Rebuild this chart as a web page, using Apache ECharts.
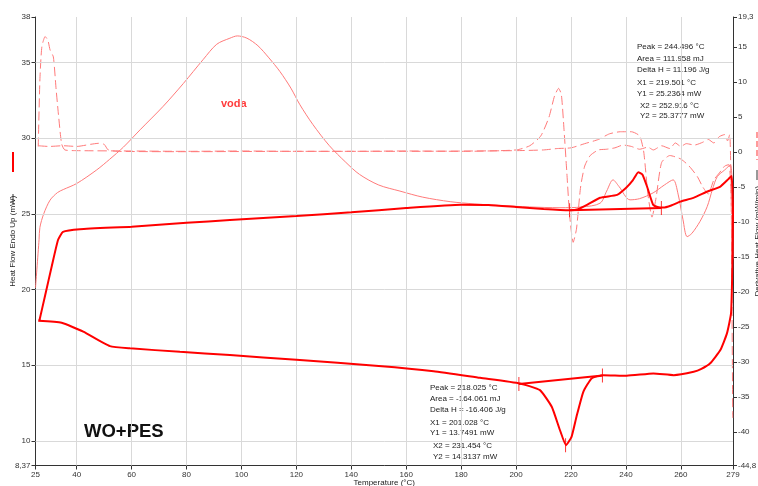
<!DOCTYPE html>
<html>
<head>
<meta charset="utf-8">
<script src="https://cdn.jsdelivr.net/npm/echarts@6/dist/echarts.min.js"></script>
<style>
  html, body { margin: 0; padding: 0; background: #fff; }
  #chart { width: 758px; height: 486px; }
</style>
</head>
<body>
<div id="chart"></div>
<script>
// Axis ticks
const tempTicks = [25, 40, 60, 80, 100, 120, 140, 160, 180, 200, 220, 240, 260, 279];
const tempGrid = [40, 60, 80, 100, 120, 140, 160, 180, 200, 220, 240, 260];
const heatTicks = [8.37, 10, 15, 20, 25, 30, 35, 38];
const heatGrid = [10, 15, 20, 25, 30, 35];
const derivTicks = [-44.8, -40, -35, -30, -25, -20, -15, -10, -5, 0, 5, 10, 15, 19.3];

// WO+PES heat flow loop (°C, mW)
const loopT = [26.4, 28.5, 31, 33.2, 35.0, 41.2, 60, 80, 95.8, 120, 140, 160, 180, 190, 200, 210, 219.5, 222.6,
  226, 230.6, 236.8, 240, 242.5, 244.5, 246, 247.7, 249.9, 251.5, 253.6, 256.5, 259.8, 264.6, 269.7, 274.4, 277.3, 278.5,
  279.0, 278.8, 278.3, 276.8, 274.4, 270.7, 267.5, 264.7, 257.4, 250, 240.3, 231.8, 227.5, 224.5, 222, 220.2, 218.2,
  216, 213, 208.7, 201.4, 186.9, 170, 150, 120, 95.8, 77.6, 59.4, 52.1, 42.4, 34.5, 26.0];
const loopV = [17.93, 19.6, 21.6, 23.27, 23.8, 23.98, 24.15, 24.4, 24.59, 24.85, 25.1, 25.38, 25.6, 25.58, 25.45, 25.32, 25.24, 25.3,
  25.6, 26.06, 26.25, 26.7, 27.2, 27.75, 27.6, 26.8, 25.6, 25.45, 25.41, 25.55, 25.8, 26.05, 26.47, 26.8, 27.29, 27.5,
  25.0, 21.9, 18.45, 17.1, 16.0, 15.12, 14.75, 14.56, 14.34, 14.45, 14.30, 14.34, 14.12, 13.24, 11.59, 10.26, 9.71,
  10.7, 12.25, 13.35, 13.79, 14.16, 14.6, 14.95, 15.35, 15.67, 15.88, 16.11, 16.26, 17.21, 17.8, 17.93];

// voda run heat flow (°C, mW)
const vodaT = [25.0, 26.3, 26.6, 28, 30.3, 33, 35.1, 40, 47.3, 52, 57, 63.1, 71.5, 78.8, 86.1, 91, 95.8, 98.5, 102, 106,
  110, 114, 118, 121.3, 126, 132, 138, 143, 150, 157.7, 166, 176, 185, 194, 205, 216, 224, 230.6, 233, 235.3, 237.5,
  241.5, 245, 249.9, 254, 257.2, 259, 260.8, 262.3, 264, 267, 269.6, 271.5, 273.3, 276, 278, 278.8, 279];
const vodaV = [20.1, 23.3, 24.1, 25.0, 25.9, 26.4, 26.6, 27.0, 27.9, 28.6, 29.4, 30.55, 32.1, 33.6, 35.2, 36.2, 36.6, 36.75, 36.6, 36.1,
  35.3, 34.4, 33.3, 32.2, 30.9, 29.5, 28.4, 27.6, 26.9, 26.5, 26.1, 25.8, 25.65, 25.55, 25.45, 25.4, 25.45, 25.7, 26.5, 27.24, 26.8,
  25.92, 26.0, 26.38, 26.9, 27.24, 26.3, 24.6, 23.49, 23.7, 24.5, 25.47, 26.6, 27.46, 27.9, 28.23, 26, 22];

// Derivative heat flow, curve 1 (°C, mW/min)
const deriv1T = [26.0, 26.6, 27.3, 28.5, 29.5, 30.3, 31.5, 32.5, 33.3, 34.5, 35.7, 40, 60, 80, 100, 120, 140, 160, 180, 200,
  205, 209, 212, 214, 215.5, 216.5, 217.5, 218.5, 219.5, 220.8, 222, 223.5, 225, 227, 230, 233, 236, 239, 242, 245, 248, 250,
  253, 256, 258, 260, 262, 265, 268, 270, 272, 274, 276, 277, 277.8, 278.3, 278.6, 278.9];
const deriv1V = [0.8, 10.3, 15, 16.5, 16, 14.6, 13.6, 9, 5.6, 1.2, 0.3, 0.2, 0.15, 0.1, 0.15, 0.1, 0.1, 0.15, 0.1, 0.3,
  0.9, 2.3, 5, 8, 9.1, 8.2, 3, -3, -9, -12.9, -11, -5, -2, -0.5, 0.3, 0.4, 0.6, 1, 0.8, 0.4, 0.7, 0.3,
  0.9, 0.5, 1.3, 0.8, 1.2, 1.0, 1.4, 1.8, 1.3, 2.2, 2.5, 1.6, 2.5, -5, -20, -38];

// Derivative heat flow, curve 2 (°C, mW/min)
const deriv2T = [26.0, 30, 35, 40, 45, 48, 50, 51.5, 55, 80, 120, 160, 200, 210, 215, 220, 225, 230, 234, 238, 242, 245,
  246.5, 248, 249.5, 251, 253, 256, 260, 263, 266, 268, 270, 272, 274, 276, 277.5, 278.3, 278.6];
const deriv2V = [0.9, 0.8, 0.9, 0.8, 1.1, 1.25, 1.1, 0.3, 0.1, 0.05, 0.1, 0.1, 0.2, 0.3, 0.5, 0.6, 1.2, 1.8, 2.6, 2.9, 2.9, 2.3,
  0, -6, -9.3, -6.5, -1.5, -0.5, -1, -2, -3.5, -5, -6, -4, -3, -2, -1.8, -6, -15];

// Peak integration limits and peak positions
const peakLow = { x1: 201.028, y1: 13.7491, x2: 231.454, y2: 14.3137, peak: 218.025, peakY: 9.71 };
const peakHigh = { x1: 219.501, y1: 25.2364, x2: 252.916, y2: 25.3777, peak: 244.496, peakY: 27.75 };

const lowText = ['Peak = 218.025 °C', 'Area = -164.061 mJ', 'Delta H = -16.406 J/g', 'X1 = 201.028 °C', 'Y1 = 13.7491 mW', 'X2 = 231.454 °C', 'Y2 = 14.3137 mW'];
const highText = ['Peak = 244.496 °C', 'Area = 111.958 mJ', 'Delta H = 11.196 J/g', 'X1 = 219.501 °C', 'Y1 = 25.2364 mW', 'X2 = 252.916 °C', 'Y2 = 25.3777 mW'];

const zip = (a, b) => a.map((v, i) => [v, b[i]]);
const comma = v => String(v).replace('.', ',');

const FONT = 'Liberation Sans, Arial, sans-serif';
const RED = '#ff0000';
const LIGHT = '#ff7a7a';

const chart = echarts.init(document.getElementById('chart'), null, { renderer: 'canvas' });

const gridLineSeries = {
  type: 'line', data: [], xAxisIndex: 0, yAxisIndex: 0, silent: true, z: 1,
  markLine: {
    silent: true, symbol: 'none', animation: false,
    label: { show: false },
    lineStyle: { color: '#d9d9d9', width: 1, type: 'solid' },
    data: heatGrid.map(v => ({ yAxis: v })).concat(tempGrid.map(v => ({ xAxis: v })))
  }
};

function textBlock(lines, x, y, gaps) {
  const els = [];
  let yy = y;
  lines.forEach((t, i) => {
    els.push({
      type: 'text', left: x + (i >= 5 ? 3 : 0), top: yy,
      style: { text: t, font: '8px ' + FONT, fill: '#222' }
    });
    yy += gaps[i] || 10.5;
  });
  return els;
}

const axisName = { fontFamily: FONT, fontSize: 8, color: '#222' };

const option = {
  animation: false,
  backgroundColor: '#fff',
  grid: { left: 35.5, right: 25, top: 17, bottom: 20.5, containLabel: false, outerBoundsMode: 'none' },
  xAxis: {
    type: 'value', min: 25, max: 279,
    name: 'Temperature (°C)', nameLocation: 'middle', nameGap: 13, nameMoveOverlap: false,
    nameTextStyle: axisName,
    axisLine: { onZero: false, lineStyle: { color: '#333', width: 1 } },
    axisTick: { customValues: tempTicks, length: 4, lineStyle: { color: '#333' } },
    axisLabel: { customValues: tempTicks, fontFamily: FONT, fontSize: 8, color: '#333', margin: 5 },
    splitLine: { show: false }
  },
  yAxis: [
    {
      type: 'value', min: 8.37, max: 38, position: 'left',
      name: 'Heat Flow Endo Up (mW)', nameLocation: 'middle', nameGap: 19, nameRotate: 90, nameMoveOverlap: false,
      nameTextStyle: axisName,
      axisLine: { show: true, onZero: false, lineStyle: { color: '#333', width: 1 } },
      axisTick: { show: true, customValues: heatTicks, length: 4, lineStyle: { color: '#333' } },
      axisLabel: { customValues: heatTicks, formatter: comma, fontFamily: FONT, fontSize: 8, color: '#333', margin: 5 },
      splitLine: { show: false }
    },
    {
      type: 'value', min: -44.8, max: 19.3, position: 'right',
      name: 'Derivative Heat Flow (mW/min)', nameLocation: 'middle', nameGap: 21, nameRotate: 90, nameMoveOverlap: false,
      nameTextStyle: axisName,
      axisLine: { show: true, onZero: false, lineStyle: { color: '#333', width: 1 } },
      axisTick: { show: true, customValues: derivTicks, length: 4, lineStyle: { color: '#333' } },
      axisLabel: { customValues: derivTicks, formatter: comma, fontFamily: FONT, fontSize: 8, color: '#333', margin: 5 },
      splitLine: { show: false }
    }
  ],
  series: [
    gridLineSeries,
    {
      name: 'voda', type: 'line', yAxisIndex: 0, data: zip(vodaT, vodaV), showSymbol: false, smooth: 0.3,
      lineStyle: { color: LIGHT, width: 1 }, z: 3
    },
    {
      name: 'deriv1', type: 'line', yAxisIndex: 1, data: zip(deriv1T, deriv1V), showSymbol: false, smooth: 0.2,
      lineStyle: { color: LIGHT, width: 1, type: [9, 4] }, z: 3
    },
    {
      name: 'deriv2', type: 'line', yAxisIndex: 1, data: zip(deriv2T, deriv2V), showSymbol: false, smooth: 0.2,
      lineStyle: { color: LIGHT, width: 1, type: [9, 4] }, z: 3
    },
    {
      name: 'WO+PES', type: 'line', yAxisIndex: 0, data: zip(loopT, loopV), showSymbol: false, smooth: 0.15,
      lineStyle: { color: RED, width: 2 }, z: 5
    },
    {
      name: 'baseline low', type: 'line', yAxisIndex: 0,
      data: [[peakLow.x1, peakLow.y1], [peakLow.x2, peakLow.y2]], showSymbol: false,
      lineStyle: { color: RED, width: 2 }, z: 5
    },
    {
      name: 'baseline high', type: 'line', yAxisIndex: 0,
      data: [[peakHigh.x1, peakHigh.y1], [peakHigh.x2, peakHigh.y2]], showSymbol: false,
      lineStyle: { color: RED, width: 2 }, z: 5
    },
    {
      name: 'limits', type: 'scatter', yAxisIndex: 0,
      data: [[peakLow.x1, peakLow.y1], [peakLow.x2, peakLow.y2], [peakLow.peak, peakLow.peakY],
             [peakHigh.x1, peakHigh.y1], [peakHigh.x2, peakHigh.y2]],
      symbol: 'rect', symbolSize: [1, 14], itemStyle: { color: RED }, z: 6
    }
  ],
  graphic: [
    { type: 'text', left: 221, top: 98, style: { text: 'voda', font: 'bold 11px ' + FONT, fill: '#ff3b3b' } },
    { type: 'text', left: 84, top: 422, style: { text: 'WO+PES', font: 'bold 18.5px ' + FONT, fill: '#111' } },
    // series keys beside the axis titles
    { type: 'line', shape: { x1: 13, y1: 152, x2: 13, y2: 172 }, style: { stroke: RED, lineWidth: 2 } },
    { type: 'line', shape: { x1: 13, y1: 194, x2: 13, y2: 204 }, style: { stroke: '#333', lineWidth: 1 } },
    { type: 'line', shape: { x1: 757, y1: 170, x2: 757, y2: 180 }, style: { stroke: '#333', lineWidth: 1 } },
    { type: 'line', shape: { x1: 757, y1: 132, x2: 757, y2: 160 }, style: { stroke: LIGHT, lineWidth: 1.5, lineDash: [6, 3] } }
  ]
    .concat(textBlock(highText, 637, 43, [11.5, 11, 13, 11, 12, 10.5]))
    .concat(textBlock(lowText, 430, 384, [11, 10.5, 13, 10, 13.5, 10.5]))
};

chart.setOption(option);
</script>
</body>
</html>
